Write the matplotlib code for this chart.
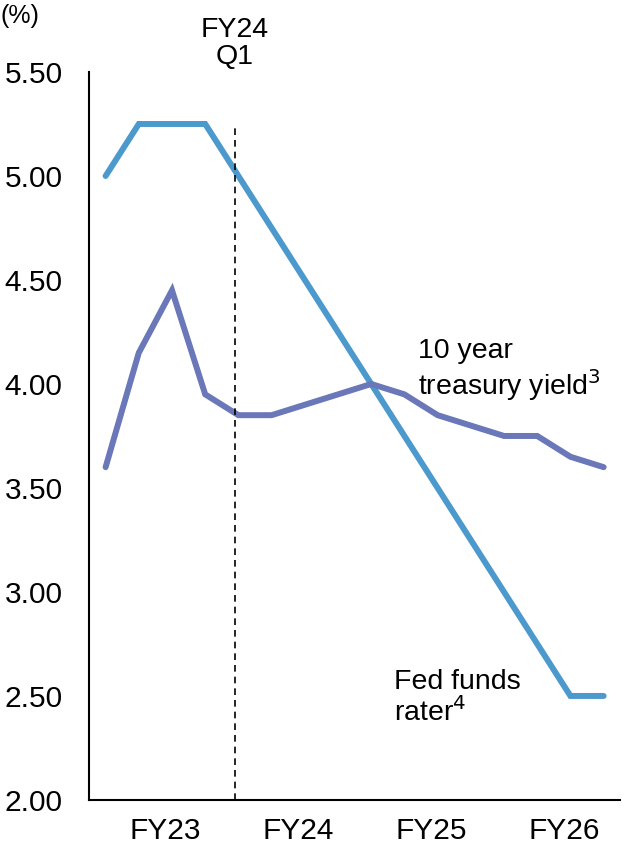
import matplotlib.pyplot as plt

plt.rcParams['font.family'] = ['Liberation Sans', 'DejaVu Sans']

# quarterly points FY23 Q1 .. FY26 Q4
quarters = list(range(16))
fed_funds = [5.00, 5.25, 5.25, 5.25, 5.00, 4.75, 4.50, 4.25,
             4.00, 3.75, 3.50, 3.25, 3.00, 2.75, 2.50, 2.50]
treasury = [3.60, 4.15, 4.45, 3.95, 3.85, 3.85, 3.90, 3.95,
            4.00, 3.95, 3.85, 3.80, 3.75, 3.75, 3.65, 3.60]
fy_labels = ["FY23", "FY24", "FY25", "FY26"]
fy_pos = [1.8, 5.8, 9.8, 13.8]
yticks = [2.0, 2.5, 3.0, 3.5, 4.0, 4.5, 5.0, 5.5]

fig = plt.figure(figsize=(6.25, 8.51), dpi=100)
ax = fig.add_axes([0.1424, 0.06, 0.85, 0.8554])

ax.plot(quarters, fed_funds, color="#4B99CD", lw=4.3, solid_capstyle="round", solid_joinstyle="miter")
ax.plot(quarters, treasury, color="#6A77B8", lw=4.3, solid_capstyle="round", solid_joinstyle="miter")

# FY24 Q1 marker
ax.vlines(3.9, 2.0, 5.23, colors="black", linestyles=(0, (4, 3)), lw=1.2)
ax.text(3.9, 5.51, "FY24\nQ1", ha="center", va="bottom", fontsize=20.5, linespacing=1.05, clip_on=False)

ax.text(9.4, 3.91, "10 year\ntreasury yield$^3$", fontsize=20.5, va="bottom", linespacing=1.1)
ax.text(8.7, 2.35, "Fed funds\nrater$^4$", fontsize=20.5, va="bottom", linespacing=1.1)

ax.set_xlim(-0.5, 15.5)
ax.set_ylim(2.0, 5.5)
ax.set_yticks(yticks)
ax.set_yticklabels(["%.2f" % v for v in yticks], fontsize=21.5)
ax.set_xticks(fy_pos)
ax.set_xticklabels(fy_labels, fontsize=21.5)
ax.tick_params(length=0)
ax.tick_params(axis="y", pad=19)
ax.tick_params(axis="x", pad=12)

for s in ["top", "right"]:
    ax.spines[s].set_visible(False)
for s in ["left", "bottom"]:
    ax.spines[s].set_linewidth(1.5)

fig.text(0.0, 0.995, "(%)", fontsize=18, va="top")

fig.savefig("out.png", dpi=100)
